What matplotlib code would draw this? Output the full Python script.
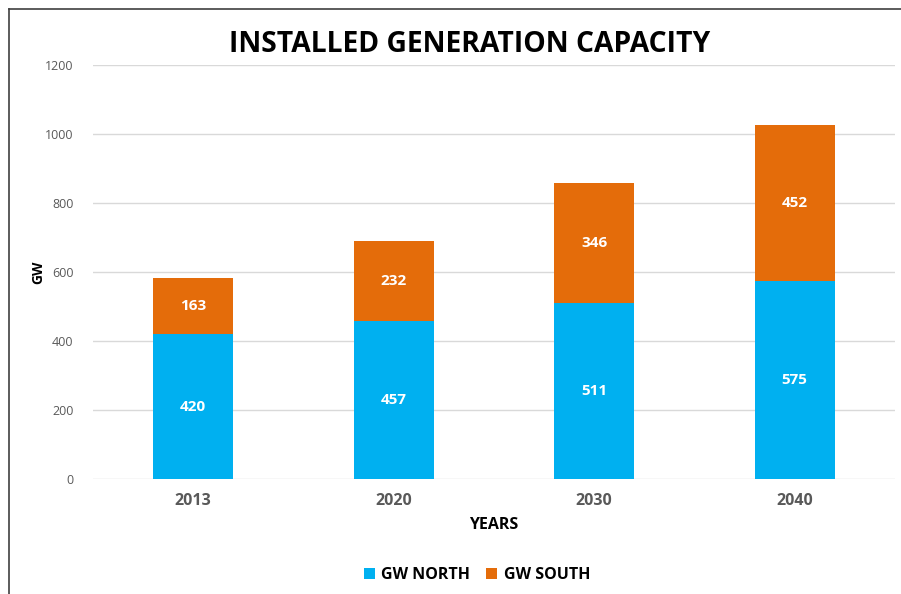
import matplotlib.pyplot as plt
from matplotlib.lines import Line2D

years = ['2013', '2020', '2030', '2040']
gw_north = [420, 457, 511, 575]
gw_south = [163, 232, 346, 452]

plt.rcParams['font.family'] = ['Open Sans', 'DejaVu Sans']

fig = plt.figure(figsize=(9.01, 5.94), dpi=100)
ax = fig.add_axes([93 / 901, 1 - 479 / 594, 802 / 901, 414 / 594])

x = range(len(years))
b1 = ax.bar(x, gw_north, width=0.4, color='#00B0F0', label='GW NORTH', zorder=2)
b2 = ax.bar(x, gw_south, width=0.4, bottom=gw_north, color='#E46C0A', label='GW SOUTH', zorder=2)

for bars in (b1, b2):
    ax.bar_label(bars, label_type='center', color='white', fontsize=11, fontweight='bold')

ax.set_xlim(-0.5, 3.5)
ax.set_ylim(0, 1200)
ax.set_yticks(range(0, 1201, 200))
ax.set_xticks(list(x))
ax.set_xticklabels(years, fontsize=11.5, fontweight='bold', color='#595959')
ax.tick_params(axis='y', labelsize=9, colors='#595959', length=0, pad=14)
ax.tick_params(axis='x', length=0, pad=10)
ax.grid(True, axis='y', color='#D9D9D9', linewidth=1, zorder=0)
for s in ax.spines.values():
    s.set_visible(False)

ax.set_xlabel('YEARS', fontsize=11.5, fontweight='bold', color='#000000', labelpad=6)
ax.set_ylabel('GW', fontsize=10, fontweight='bold', color='#000000')
ax.yaxis.set_label_coords((45 - 93) / 802, 0.5)

fig.text(470 / 901, 1 - 45 / 594, 'INSTALLED GENERATION CAPACITY', ha='center', va='center',
         fontsize=20.3, fontweight='bold')

fig.legend(handles=[b1, b2], loc='center', bbox_to_anchor=(477 / 901, 1 - 575 / 594), ncol=2,
           frameon=False, prop={'weight': 'bold', 'size': 11.5},
           handlelength=0.7, handleheight=0.7, handletextpad=0.4, columnspacing=1.0)

fig.add_artist(Line2D([8.5 / 901, 8.5 / 901], [0, 1 - 9 / 594], transform=fig.transFigure,
                      color='#404040', linewidth=1.2))
fig.add_artist(Line2D([8.5 / 901, 1], [1 - 9 / 594, 1 - 9 / 594], transform=fig.transFigure,
                      color='#404040', linewidth=1.2))

fig.savefig('out.png', dpi=100)
